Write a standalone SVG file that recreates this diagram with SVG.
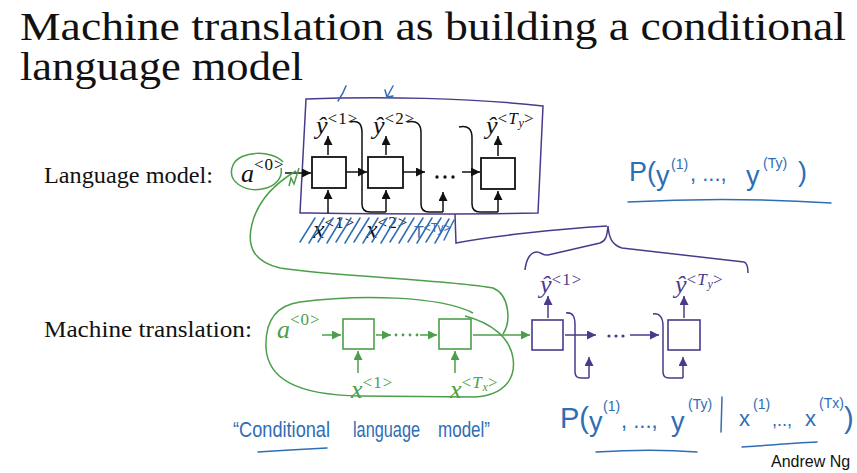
<svg xmlns="http://www.w3.org/2000/svg" width="857" height="473" viewBox="0 0 857 473">
<style>
text{font-family:"Liberation Serif","DejaVu Serif",serif;fill:#111}
.title{font-size:41px}
.lbl{font-size:24px}
.m{font-style:italic;font-size:26px}
.s{font-style:normal;font-size:17px;letter-spacing:1px}
.ss{font-style:italic;font-size:12px;letter-spacing:0}
.k{stroke:#111;stroke-width:1.5;fill:none}
.kb{stroke:#111;stroke-width:1.8;fill:#fff}
.g{stroke:#4c9f4a;stroke-width:1.5;fill:none}
.gb{stroke:#4c9f4a;stroke-width:1.6;fill:#fff}
.p{stroke:#4a3a8c;stroke-width:1.5;fill:none}
.pb{stroke:#4a3a8c;stroke-width:1.6;fill:#fff}
.b{stroke:#2f6db5;stroke-width:1.5;fill:none;stroke-linecap:round;stroke-linejoin:round}
.hand{font-family:"Liberation Sans",sans-serif;fill:#2f6db5}
.gt{fill:#4c9f4a}
.pt{fill:#4a3a8c}
</style>
<defs>
<marker id="ak" viewBox="0 0 10 10" refX="10" refY="5" markerWidth="9" markerHeight="9" markerUnits="userSpaceOnUse" orient="auto"><path d="M0,0L10,5L0,10z" fill="#111"/></marker>
<marker id="ag" viewBox="0 0 10 10" refX="10" refY="5" markerWidth="9" markerHeight="9" markerUnits="userSpaceOnUse" orient="auto"><path d="M0,0L10,5L0,10z" fill="#4c9f4a"/></marker>
<marker id="ap" viewBox="0 0 10 10" refX="10" refY="5" markerWidth="9" markerHeight="9" markerUnits="userSpaceOnUse" orient="auto"><path d="M0,0L10,5L0,10z" fill="#4a3a8c"/></marker>
</defs>

<g id="title">
<text class="title" x="20" y="40" textLength="826" lengthAdjust="spacingAndGlyphs">Machine translation as building a conditional</text>
<text class="title" x="20" y="80" textLength="283" lengthAdjust="spacingAndGlyphs">language model</text>
</g>

<g id="labels">
<text class="lbl" x="44" y="183" textLength="169" lengthAdjust="spacingAndGlyphs">Language model:</text>
<text class="lbl" x="44" y="337" textLength="208" lengthAdjust="spacingAndGlyphs">Machine translation:</text>
</g>

<!-- purple annotation box around LM -->
<g id="lm-frame">
<path class="p" d="M306,99 C380,96 470,98 543,106 L538,213 C450,215 380,214 300,213 Z"/>
<path class="p" d="M455,214 L456,243 C490,236 560,229 607,226"/>
<path class="p" d="M525,270 C526,260 530,252 537,252 C541,252 543,256 548,255 L600,243 C606,241 607,236 608,226 C609,238 612,245 622,248 L744,262 C747,263 748,267 748,273"/>
</g>

<!-- LM nodes -->
<g id="lm-a0"><text class="m" x="241" y="182">a<tspan class="s" dy="-12">&lt;0&gt;</tspan></text></g>
<g id="lm-cell1"><rect class="kb" x="312" y="157" width="34" height="31"/></g>
<g id="lm-cell2"><rect class="kb" x="368" y="157" width="35" height="31"/></g>
<g id="lm-cellTy"><rect class="kb" x="481" y="158" width="34" height="31"/></g>
<g id="lm-y1"><text class="m" x="316" y="134">ŷ<tspan class="s" dy="-10">&lt;1&gt;</tspan></text></g>
<g id="lm-y2"><text class="m" x="373" y="134">ŷ<tspan class="s" dy="-10">&lt;2&gt;</tspan></text></g>
<g id="lm-yTy"><text class="m" x="486" y="134">ŷ<tspan class="s" dy="-10">&lt;<tspan font-style="italic">T</tspan><tspan class="ss" dy="3">y</tspan><tspan dy="-3">&gt;</tspan></tspan></text></g>
<g id="lm-x1"><text class="m" x="313" y="238">x<tspan class="s" dy="-10">&lt;1&gt;</tspan></text></g>
<g id="lm-x2"><text class="m" x="366" y="238">x<tspan class="s" dy="-10">&lt;2&gt;</tspan></text></g>
<g id="lm-xTy"><text class="hand" x="414" y="238" font-size="16">T<tspan dy="-6" font-size="12">&lt;Ty&gt;</tspan></text></g>
<g id="lm-dots"><circle cx="437" cy="177" r="1.7" fill="#111"/><circle cx="445" cy="177" r="1.7" fill="#111"/><circle cx="453" cy="177" r="1.7" fill="#111"/></g>

<!-- MT encoder (green) -->
<g id="mt-a0"><text class="m gt" x="277" y="338">a<tspan class="s gt" dy="-13">&lt;0&gt;</tspan></text></g>
<g id="mt-enc1"><rect class="gb" x="343" y="319" width="31" height="30"/></g>
<g id="mt-encTx"><rect class="gb" x="439" y="319" width="32" height="30"/></g>
<g id="mt-x1"><text class="m gt" x="351" y="398">x<tspan class="s gt" dy="-10">&lt;1&gt;</tspan></text></g>
<g id="mt-xTx"><text class="m gt" x="450" y="398">x<tspan class="s gt" dy="-10">&lt;<tspan font-style="italic">T</tspan><tspan class="ss" dy="3">x</tspan><tspan dy="-3">&gt;</tspan></tspan></text></g>
<g id="mt-dots"><circle cx="396" cy="335" r="1.4" fill="#4c9f4a"/><circle cx="403" cy="335" r="1.4" fill="#4c9f4a"/><circle cx="410" cy="335" r="1.4" fill="#4c9f4a"/><circle cx="417" cy="335" r="1.4" fill="#4c9f4a"/></g>

<!-- MT decoder (purple) -->
<g id="mt-dec1"><rect class="pb" x="532" y="320" width="31" height="30"/></g>
<g id="mt-decTy"><rect class="pb" x="668" y="320" width="32" height="30"/></g>
<g id="mt-y1"><text class="m pt" x="540" y="293">ŷ<tspan class="s pt" dy="-8">&lt;1&gt;</tspan></text></g>
<g id="mt-yTy"><text class="m pt" x="675" y="293">ŷ<tspan class="s pt" dy="-8">&lt;<tspan font-style="italic">T</tspan><tspan class="ss" dy="3">y</tspan><tspan dy="-3">&gt;</tspan></tspan></text></g>
<g id="mt-ddots"><circle cx="609" cy="336" r="1.6" fill="#4a3a8c"/><circle cx="616" cy="336" r="1.6" fill="#4a3a8c"/><circle cx="623" cy="336" r="1.6" fill="#4a3a8c"/></g>

<g id="connectors">
<!-- LM -->
<path class="k" marker-end="url(#ak)" d="M285,173 L311,173"/>
<path class="k" marker-end="url(#ak)" d="M346,172 L367,172"/>
<path class="k" marker-end="url(#ak)" d="M403,172 L425,172"/>
<path class="k" marker-end="url(#ak)" d="M462,172 L480,172"/>
<path class="k" marker-end="url(#ak)" d="M328,155 L328,136"/>
<path class="k" marker-end="url(#ak)" d="M386,155 L386,136"/>
<path class="k" marker-end="url(#ak)" d="M498,156 L498,136"/>
<path class="k" marker-end="url(#ak)" d="M328,213 L328,190"/>
<path class="k" marker-end="url(#ak)" d="M386,212 L386,190"/>
<path class="k" marker-end="url(#ak)" d="M443,212 L443,192"/>
<path class="k" marker-end="url(#ak)" d="M498,212 L498,191"/>
<path class="k" stroke-width="1.1" d="M350,122 C359,120 362,124 362,133 L362,204 Q362,212 370,212 L386,212"/>
<path class="k" stroke-width="1.1" d="M407,122 C417,120 421,124 421,133 L421,204 Q421,212 429,212 L443,212"/>
<path class="k" stroke-width="1.1" d="M459,127 C468,125 472,129 472,138 L472,204 Q472,212 480,212 L498,212"/>
<!-- MT encoder -->
<path class="g" marker-end="url(#ag)" d="M322,335 L341,335"/>
<path class="g" marker-end="url(#ag)" d="M376,335 L391,335"/>
<path class="g" marker-end="url(#ag)" d="M420,335 L437,335"/>
<path class="g" marker-end="url(#ag)" d="M358,373 L358,351"/>
<path class="g" marker-end="url(#ag)" d="M455,373 L455,351"/>
<path class="g" marker-end="url(#ag)" d="M473,335 L530,335"/>
<!-- MT decoder -->
<path class="p" marker-end="url(#ap)" d="M548,318 L548,296"/>
<path class="p" marker-end="url(#ap)" d="M684,318 L684,296"/>
<path class="p" marker-end="url(#ap)" d="M565,335 L596,335"/>
<path class="p" marker-end="url(#ap)" d="M630,335 L659,335"/>
<path class="p" marker-end="url(#ap)" d="M589,378 L589,357"/>
<path class="p" marker-end="url(#ap)" d="M683,378 L683,357"/>
<path class="p" stroke-width="1.1" d="M566,313 C573,312 575,317 575,325 L575,372 Q575,378 581,378 L589,378"/>
<path class="p" stroke-width="1.1" d="M653,314 C660,313 663,318 663,326 L663,372 Q663,378 669,378 L683,378"/>
</g>

<!-- green annotations -->
<g id="green-marks">
<path class="g" d="M283,162 C272,150 240,150 233,165 C226,182 245,192 262,189 C275,187 283,178 281,168"/>
<path class="g" d="M289,186 L291,178 L294,184 L299,168"/>
<path class="g" d="M296,171 C274,184 258,200 252,224 C246,248 255,262 280,268 C330,276 450,280 493,288 C510,295 511,322 503,334"/>
<path class="g" d="M473,313 C440,296 360,294 300,302 C272,306 265,325 266,348 C268,378 295,395 360,396 L475,397 C505,395 516,378 513,358 C510,338 492,323 465,316"/>
</g>

<!-- blue annotations -->
<g id="blue-marks">
<path class="b" d="M346,86 Q343,94 338,101"/>
<path class="b" d="M393,86 L387,97 M385,90 L387,97 L393,96"/>
<path class="b" stroke-width="1.2" d="M300,242 l15,-24 M309,243 l15,-25 M318,242 l15,-24 M327,243 l15,-25 M336,242 l15,-24 M345,243 l15,-25 M354,242 l15,-24 M363,243 l15,-25 M372,242 l15,-24 M381,243 l15,-25 M390,242 l15,-24 M399,243 l15,-25 M408,242 l15,-24 M417,243 l15,-25 M426,242 l15,-24 M435,243 l14,-24 M444,240 l10,-20"/>
<text class="hand" x="629" y="181" font-size="27">P(</text>
<text class="hand" x="656" y="185" font-size="27">y</text>
<text class="hand" x="671" y="169" font-size="14">(1)</text>
<text class="hand" x="690" y="181" font-size="22">, ..., </text>
<text class="hand" x="746" y="185" font-size="27">y</text>
<text class="hand" x="763" y="168" font-size="14">(Ty)</text>
<text class="hand" x="798" y="181" font-size="27">)</text>
<path class="b" d="M628,202 C700,198 770,199 831,203"/>

<text class="hand" x="233" y="437" font-size="22" textLength="97" lengthAdjust="spacingAndGlyphs">“Conditional</text>
<text class="hand" x="353" y="437" font-size="22" textLength="67" lengthAdjust="spacingAndGlyphs">language</text>
<text class="hand" x="438" y="437" font-size="22" textLength="52" lengthAdjust="spacingAndGlyphs">model”</text>
<path class="b" d="M258,452 C285,450 305,449 327,448"/>

<text class="hand" x="560" y="428" font-size="29">P(</text>
<text class="hand" x="589" y="431" font-size="27">y</text>
<text class="hand" x="603" y="411" font-size="14">(1)</text>
<text class="hand" x="621" y="428" font-size="22">, ..., </text>
<text class="hand" x="671" y="431" font-size="27">y</text>
<text class="hand" x="688" y="409" font-size="14">(Ty)</text>
<path class="b" d="M722,397 L721,432"/>
<text class="hand" x="739" y="426" font-size="22">x</text>
<text class="hand" x="753" y="409" font-size="14">(1)</text>
<text class="hand" x="772" y="426" font-size="18">,..,</text>
<text class="hand" x="805" y="426" font-size="22">x</text>
<text class="hand" x="819" y="408" font-size="14">(Tx)</text>
<text class="hand" x="844" y="428" font-size="29">)</text>
<path class="b" d="M596,452 C630,450 670,450 697,452"/>
<path class="b" d="M742,447 C770,445 795,443 817,442"/>
</g>

<g id="footer"><text x="771" y="467" font-size="16" style="font-family:'Liberation Sans',sans-serif" fill="#222">Andrew Ng</text></g>
</svg>
